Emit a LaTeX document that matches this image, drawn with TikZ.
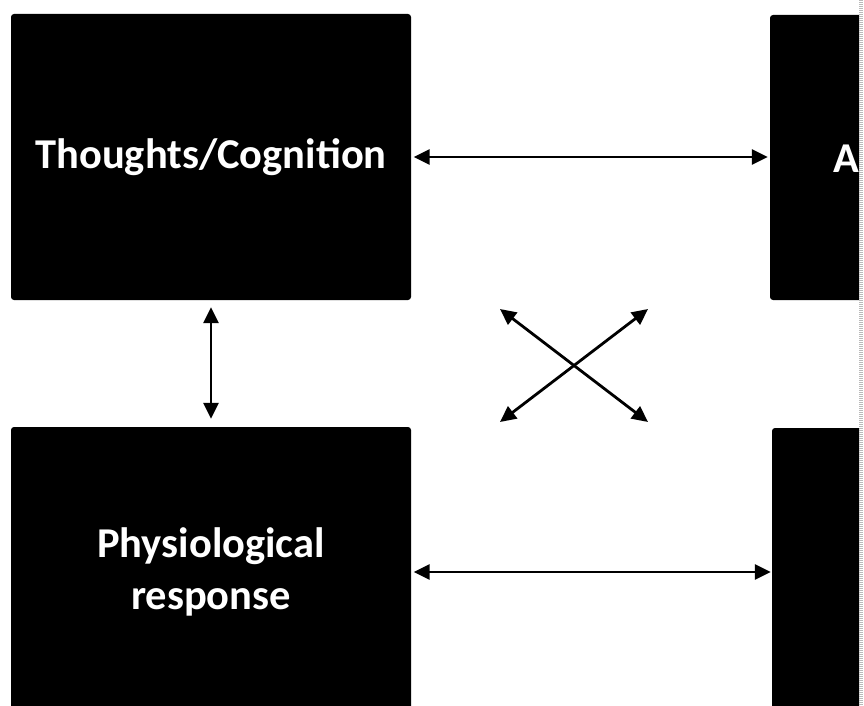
\documentclass[tikz,border=0pt]{standalone}
\usepackage{fontspec}
\setmainfont{Carlito}
\usetikzlibrary{positioning,arrows.meta,calc}

\begin{document}
\begin{tikzpicture}[
  x=1pt, y=-1pt,
  font=\fontsize{42.5}{52}\selectfont\bfseries,
  box/.style={fill=black, rounded corners=3pt, inner sep=0pt, text=white, align=center},
  arr/.style={{Triangle[length=16pt,width=15pt]}-{Triangle[length=16pt,width=15pt]}, line width=2.8pt},
  every node/.style={align=center}
]
\useasboundingbox (0,0) rectangle (864,706);
\begin{scope}
\clip (0,0) rectangle (859,706);
\node[box, minimum width=400pt, minimum height=286pt] (box-thoughts) at (211,157) {Thoughts/Cognition};
\node[box, minimum width=400pt, minimum height=290pt] (box-physio) at (211,572) {Physiological\\response};
\node[box, minimum width=178pt, minimum height=285pt] (box-a-top) at (859,157.5) {};
\node[box, minimum width=174pt, minimum height=290pt] (box-a-bottom) at (859,573) {};
\node[text=white, anchor=west, inner sep=0pt] (txt-a-top) at (833,159) {A};
\end{scope}
\draw[draw=gray!55, line width=3.5pt, dash pattern=on 1pt off 1pt] (861,0) -- (861,706);
% connectors
\draw[arr, shorten <=2.5pt, shorten >=2pt] (box-thoughts.east) -- (box-a-top.west |- box-thoughts.east);
\draw[arr, shorten <=2.5pt, shorten >=1pt] (box-physio.east) -- (box-a-bottom.west |- box-physio.east);
\draw[arr, shorten <=7pt, shorten >=8pt] (box-thoughts.south) -- (box-physio.north);
\coordinate (x-nw) at (500,309);
\coordinate (x-ne) at (648,309);
\coordinate (x-sw) at (500,422);
\coordinate (x-se) at (648,422);
\draw[arr] (x-nw) -- (x-se);
\draw[arr] (x-ne) -- (x-sw);
\end{tikzpicture}
\end{document}
